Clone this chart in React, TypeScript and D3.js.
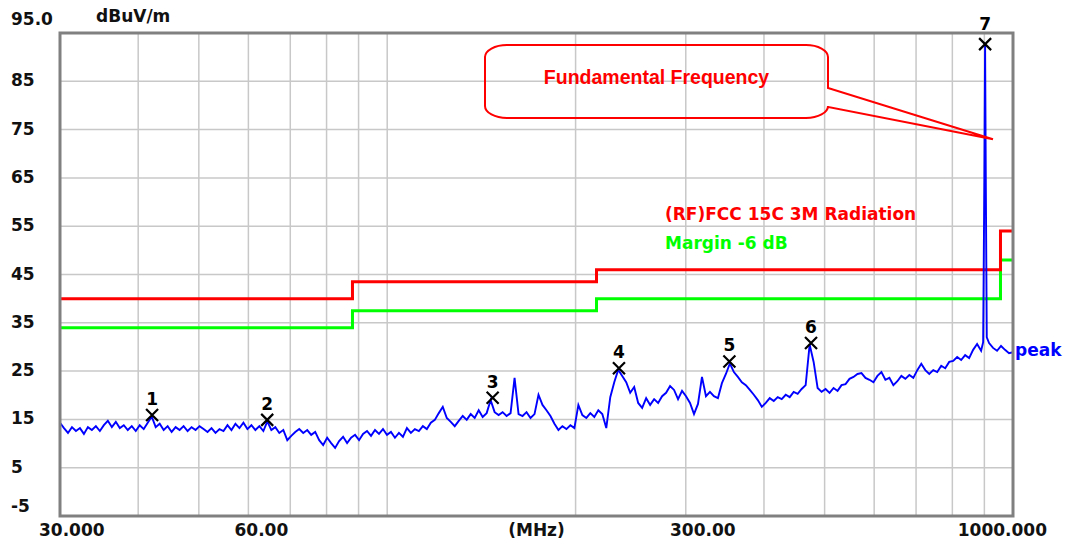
import React, { useRef, useEffect } from 'react';
import * as d3 from 'd3';

const WIDTH = 1067;
const HEIGHT = 544;

// receiver sweep (MHz)
const sweepStart = 30;
const sweepStop = 1000;

// peak trace in dBuV/m, one reading per sweep step
const traceDb = [
  14.3, 13.2, 12.2, 13.4, 12.6, 13.2, 12.0, 13.4, 12.8, 13.6,
  12.6, 13.8, 14.7, 13.4, 14.5, 13.2, 13.8, 12.8, 13.6, 12.6,
  13.8, 13.0, 14.3, 15.6, 13.4, 14.1, 12.8, 13.6, 12.4, 13.4,
  12.8, 13.6, 12.6, 13.4, 12.8, 13.6, 13.0, 12.4, 13.2, 12.2,
  13.0, 12.6, 13.8, 12.8, 14.1, 13.2, 14.3, 13.0, 13.8, 12.8,
  13.6, 12.6, 14.6, 12.8, 13.4, 12.2, 12.8, 10.7, 11.6, 12.4,
  13.0, 12.2, 12.8, 11.8, 12.4, 10.7, 9.7, 11.2, 10.1, 9.1,
  10.5, 11.4, 10.1, 11.2, 11.8, 10.7, 12.0, 12.6, 11.6, 12.8,
  12.0, 13.0, 11.8, 12.4, 11.2, 12.2, 11.4, 13.2, 12.2, 13.0,
  12.6, 13.6, 13.0, 14.3, 14.9, 16.3, 17.6, 15.3, 14.5, 13.6,
  14.7, 15.7, 14.9, 16.1, 15.3, 16.9, 15.5, 16.3, 19.0, 16.5,
  15.9, 16.5, 15.7, 16.3, 23.6, 16.1, 15.7, 16.5, 15.3, 16.1,
  20.1, 18.0, 16.9, 15.7, 14.1, 12.8, 13.6, 13.0, 13.8, 13.2,
  18.0, 15.9, 15.3, 16.3, 15.5, 16.9, 16.1, 13.2, 19.6, 22.7,
  25.3, 24.0, 22.7, 20.5, 21.7, 18.4, 17.4, 19.4, 18.0, 19.2,
  18.4, 19.8, 20.5, 21.9, 21.1, 19.2, 20.9, 19.8, 18.4, 16.1,
  18.2, 23.8, 19.8, 20.7, 19.8, 19.4, 22.5, 24.4, 26.6, 24.8,
  23.8, 22.7, 22.1, 21.1, 20.1, 19.0, 17.6, 18.4, 19.4, 18.8,
  19.6, 19.2, 20.1, 19.6, 20.7, 20.3, 21.3, 22.1, 30.5, 26.9,
  21.5, 20.7, 21.3, 20.5, 21.5, 20.9, 22.1, 22.3, 23.4, 23.8,
  24.4, 24.6, 23.6, 23.2, 22.7, 24.0, 24.8, 23.2, 23.6, 22.1,
  22.9, 24.0, 23.4, 24.2, 23.6, 25.2, 26.5, 25.2, 24.4, 25.2,
  24.8, 26.1, 25.6, 26.9, 27.1, 27.9, 27.3, 28.3, 27.7, 29.4,
  30.6, 29.2, 92.7, 30.8, 29.8, 29.2, 30.2, 29.4, 28.7, 28.9
];

// extra readings on the carrier skirts [MHz, dBuV/m]
const carrierFreq = [896, 900, 905, 908];
const carrierDb = [31, 65, 62, 32];

// FCC 15C 3m limit steps
const limitFrom = [30, 88, 216, 955];
const limitTo = [88, 216, 955, 1000];
const limitLevel = [40, 43.5, 46, 54];
const marginDb = 6;

// marked peaks
const markerNames = ['1', '2', '3', '4', '5', '6', '7'];
const markerFreq = [42.1, 64.3, 147.4, 234.6, 352.2, 475.6, 902.5];
const markerDb = [15.9, 14.9, 19.5, 25.6, 27.0, 30.8, 92.7];

// axes
const yTicks = [95, 85, 75, 65, 55, 45, 35, 25, 15, 5, -5];
const xGridFreqs = [40, 50, 60, 70, 80, 90, 100, 200, 300, 400, 500, 600, 700, 800, 900];
const xLabelFreqs = [30, 60, 300, 1000];
const xLabelTexts = ['30.000', '60.00', '300.00', '1000.000'];

const FONT = "'DejaVu Sans', Verdana, sans-serif";

const EmissionChart = () => {
  const svgRef = useRef(null);

  useEffect(() => {
    const svg = d3.select(svgRef.current);
    svg.selectAll('*').remove();

    const left = 60, right = 1013, top = 33, bottom = 516;

    const x = d3.scaleLog().domain([sweepStart, sweepStop]).range([left, right]);
    const y = d3.scaleLinear().domain([-5, 95]).range([bottom, top]);

    svg.append('rect').attr('width', WIDTH).attr('height', HEIGHT).attr('fill', '#fff');

    // grid
    const grid = svg.append('g').attr('stroke', '#c8c8c8').attr('stroke-width', 1.5);
    grid.selectAll('.hg')
      .data(yTicks.filter(d => d > -5 && d < 95))
      .enter().append('line')
      .attr('x1', left).attr('x2', right)
      .attr('y1', d => y(d)).attr('y2', d => y(d));
    grid.selectAll('.vg')
      .data(xGridFreqs)
      .enter().append('line')
      .attr('x1', d => x(d)).attr('x2', d => x(d))
      .attr('y1', top).attr('y2', bottom);

    // limit lines
    const stepPoints = (offset) => {
      const pts = [];
      limitLevel.forEach((lv, i) => {
        pts.push([limitFrom[i], lv - offset]);
        pts.push([limitTo[i], lv - offset]);
      });
      return pts;
    };
    const line = d3.line().x(d => x(d[0])).y(d => y(d[1]));

    svg.append('path')
      .attr('d', line(stepPoints(marginDb)))
      .attr('fill', 'none').attr('stroke', '#00ff00').attr('stroke-width', 3);
    svg.append('path')
      .attr('d', line(stepPoints(0)))
      .attr('fill', 'none').attr('stroke', '#ff0000').attr('stroke-width', 3);

    // trace
    const n = traceDb.length;
    const tracePts = traceDb.map((v, i) => [
      sweepStart * Math.pow(sweepStop / sweepStart, i / (n - 1)), v
    ]);
    carrierFreq.forEach((f, i) => tracePts.push([f, carrierDb[i]]));
    tracePts.sort((a, b) => a[0] - b[0]);

    svg.append('path')
      .attr('d', line(tracePts))
      .attr('fill', 'none')
      .attr('stroke', '#0000ff')
      .attr('stroke-width', 1.9)
      .attr('stroke-linejoin', 'miter');

    // frame
    svg.append('rect')
      .attr('x', left).attr('y', top)
      .attr('width', right - left).attr('height', bottom - top)
      .attr('fill', 'none').attr('stroke', '#808080').attr('stroke-width', 3);

    // markers
    const mk = svg.append('g');
    markerFreq.forEach((f, i) => {
      const cx = x(f), cy = y(markerDb[i]);
      mk.append('path')
        .attr('d', `M${cx - 6},${cy - 6}L${cx + 6},${cy + 6}M${cx + 6},${cy - 6}L${cx - 6},${cy + 6}`)
        .attr('stroke', '#000').attr('stroke-width', 2.2);
      mk.append('text')
        .attr('x', cx).attr('y', cy - (i === 6 ? 14 : 10))
        .attr('text-anchor', 'middle')
        .attr('font-family', FONT).attr('font-weight', 'bold').attr('font-size', 17)
        .attr('fill', '#000')
        .text(markerNames[i]);
    });

    // y labels
    svg.selectAll('.yl')
      .data(yTicks)
      .enter().append('text')
      .attr('x', 11)
      .attr('y', d => d === 95 ? y(d) - 8 : d === -5 ? y(d) - 4 : y(d) + 5)
      .attr('font-family', FONT).attr('font-weight', 'bold').attr('font-size', 17)
      .attr('fill', '#111')
      .text(d => d === 95 ? '95.0' : String(d));

    svg.append('text')
      .attr('x', 96).attr('y', 22)
      .attr('font-family', FONT).attr('font-weight', 'bold').attr('font-size', 17)
      .attr('fill', '#111')
      .text('dBuV/m');

    // x labels
    const xAnchor = ['start', 'middle', 'middle', 'end'];
    const xShift = [-21, 13, 17, 34];
    xLabelFreqs.forEach((f, i) => {
      svg.append('text')
        .attr('x', x(f) + xShift[i]).attr('y', 536)
        .attr('text-anchor', xAnchor[i])
        .attr('font-family', FONT).attr('font-weight', 'bold').attr('font-size', 17)
        .attr('fill', '#111')
        .text(xLabelTexts[i]);
    });
    svg.append('text')
      .attr('x', (left + right) / 2).attr('y', 536)
      .attr('text-anchor', 'middle')
      .attr('font-family', FONT).attr('font-weight', 'bold').attr('font-size', 17)
      .attr('fill', '#111')
      .text('(MHz)');

    // legend
    svg.append('text')
      .attr('x', 665).attr('y', 220)
      .attr('font-family', FONT).attr('font-weight', 'bold').attr('font-size', 17)
      .attr('fill', '#ff0000')
      .text('(RF)FCC 15C 3M Radiation');
    svg.append('text')
      .attr('x', 665).attr('y', 249)
      .attr('font-family', FONT).attr('font-weight', 'bold').attr('font-size', 17)
      .attr('fill', '#00ff00')
      .text('Margin -6 dB');

    svg.append('text')
      .attr('x', 1015).attr('y', 356)
      .attr('font-family', FONT).attr('font-weight', 'bold').attr('font-size', 17)
      .attr('fill', '#0000ff')
      .text('peak');

    // callout
    const tipX = x(929), tipY = y(73);
    const bx0 = 485, bx1 = 828, by0 = 45, by1 = 118;
    svg.append('path')
      .attr('d',
        `M${bx1},88 L${bx1},${by0 + 12} A22,12 0 0 0 ${bx1 - 22},${by0} ` +
        `L${bx0 + 22},${by0} A22,12 0 0 0 ${bx0},${by0 + 12} ` +
        `L${bx0},${by1 - 12} A22,12 0 0 0 ${bx0 + 22},${by1} ` +
        `L${bx1 - 22},${by1} A22,12 0 0 0 ${bx1},${by1 - 12} ` +
        `L${bx1},107 L${tipX},${tipY} Z`)
      .attr('fill', 'none').attr('stroke', '#ff0000').attr('stroke-width', 2);
    svg.append('text')
      .attr('x', (bx0 + bx1) / 2).attr('y', 84)
      .attr('text-anchor', 'middle')
      .attr('font-family', "'Liberation Sans', Arial, sans-serif")
      .attr('font-weight', 'bold').attr('font-size', 19.5)
      .attr('fill', '#ff0000')
      .text('Fundamental Frequency');
  }, []);

  return (
    <svg
      ref={svgRef}
      width={WIDTH}
      height={HEIGHT}
      style={{ position: 'absolute', left: 0, top: 0, display: 'block' }}
    />
  );
};

export default function App() {
  return <EmissionChart />;
}
